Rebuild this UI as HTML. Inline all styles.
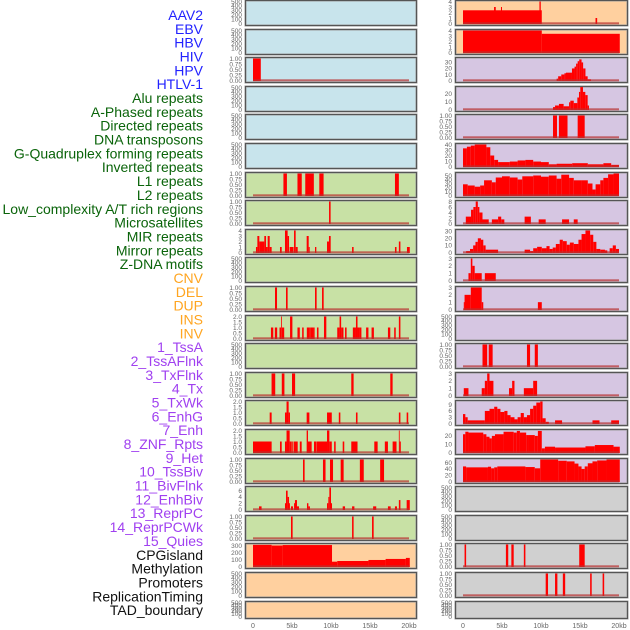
<!DOCTYPE html>
<html><head><meta charset="utf-8"><style>
html,body{margin:0;padding:0;background:#fff;}
svg{display:block;font-family:"Liberation Sans",sans-serif;}
</style></head><body>
<svg id="chart" width="630" height="630" viewBox="0 0 630 630" xmlns="http://www.w3.org/2000/svg"></svg>
<script>
// ---- data ----
const trackLabels = ["AAV2","EBV","HBV","HIV","HPV","HTLV-1","Alu repeats","A-Phased repeats","Directed repeats","DNA transposons","G-Quadruplex forming repeats","Inverted repeats","L1 repeats","L2 repeats","Low_complexity A/T rich regions","Microsatellites","MIR repeats","Mirror repeats","Z-DNA motifs","CNV","DEL","DUP","INS","INV","1_TssA","2_TssAFlnk","3_TxFlnk","4_Tx","5_TxWk","6_EnhG","7_Enh","8_ZNF_Rpts","9_Het","10_TssBiv","11_BivFlnk","12_EnhBiv","13_ReprPC","14_ReprPCWk","15_Quies","CPGisland","Methylation","Promoters","ReplicationTiming","TAD_boundary"];
const labelGroups = ["virus","virus","virus","virus","virus","virus","repeat","repeat","repeat","repeat","repeat","repeat","repeat","repeat","repeat","repeat","repeat","repeat","repeat","sv","sv","sv","sv","sv","chrom","chrom","chrom","chrom","chrom","chrom","chrom","chrom","chrom","chrom","chrom","chrom","chrom","chrom","chrom","other","other","other","other","other"];
const xTickKb = [0,5,10,15,20];
const xTickLabels = ["0","5kb","10kb","15kb","20kb"];
const emptyTicks = [0,100,200,300,400,500];
const unitTicks = [0,0.25,0.5,0.75,1];
const unitTickLabels = ["0.00","0.25","0.50","0.75","1.00"];

// bars: [startKb, endKb, value]
const L3bars = [[0,1,1]];
const L7bars = [[3.9,4.35,1],[5.7,6.25,1],[6.7,7.8,1],[8.5,9.05,1],[18.2,18.7,1]];
const L8bars = [[9.75,9.95,1]];
const L9bars = [[0.38,0.56,1],[0.56,0.81,3],[0.81,1.45,2],[1.45,1.67,3],[1.67,1.88,1],[1.88,2.14,3],[2.14,2.39,1],[3.46,3.68,1],[4.1,4.44,4],[4.44,4.62,3],[4.7,5.2,1],[5.26,5.47,4],[5.47,5.73,1],[6.88,7.14,3],[7.14,7.27,1],[7.95,8.12,1],[9.49,9.74,2],[9.74,9.96,3],[12.7,12.9,1],[18.2,18.4,1],[18.7,18.9,2],[19.74,20.1,1]];
const L11bars = [[2.82,3.08,1],[4.23,4.44,1],[7.95,8.16,1],[8.85,9.06,1]];
const L12bars = [[2.3,2.6,1],[2.8,3.1,1],[3.4,3.6,1],[3.6,3.7,2],[3.7,4.0,1],[4.75,5.05,2],[5.7,6.0,1],[6.3,6.5,1],[6.9,7.2,1],[7.2,7.4,1],[7.4,7.7,1],[7.7,7.9,1],[8.2,8.4,1],[9.1,9.4,2],[10.8,11.1,1],[11.1,11.3,2],[11.3,11.6,1],[11.8,12.0,1],[12.8,13.2,1],[13.2,13.4,2],[13.4,13.6,1],[13.6,13.9,1],[14.5,14.8,1],[15.2,15.5,1],[17.3,17.6,1],[18.1,18.3,1],[18.7,18.9,2]];
const L14bars = [[2.38,2.85,1],[3.69,4.03,1],[5.0,5.4,1],[12.6,12.9,1],[17.6,17.9,1]];
const L15bars = [[2.14,2.39,1],[4.1,4.3,1],[4.3,4.57,2],[4.57,4.74,1],[6.88,7.23,1],[9.49,10.1,1],[11.0,11.2,1],[13.2,13.4,1],[18.7,18.9,1],[19.7,19.9,1]];
const L16bars = [[0,2.39,1],[3.46,3.68,1],[4.1,4.3,1],[4.3,4.7,2],[4.7,4.87,1],[4.9,5.1,1],[5.2,5.73,1],[6.0,6.24,1],[6.88,7.05,2],[7.05,7.52,1],[7.82,8.08,1],[8.12,9.49,1],[9.49,9.79,2],[9.79,10.1,1],[10.4,10.6,1],[11.5,11.7,1],[12.6,13.4,1],[15.55,15.98,1],[16.9,17.3,1],[17.9,18.4,1],[18.7,18.8,2],[18.8,18.95,1]];
const L17bars = [[6.41,6.62,1],[8.97,9.3,1],[9.87,10.26,1],[11.24,11.62,1],[13.7,14.2,1],[16.3,16.8,1]];
const L18bars = [[0.77,1.1,1],[4.1,4.23,2],[4.23,4.44,6],[4.44,4.62,4],[4.62,4.74,2],[4.87,5.13,1],[5.26,5.38,2],[5.38,5.64,3],[5.64,5.9,1],[6.92,7.1,2],[7.1,7.3,1],[9.49,9.66,2],[9.66,9.79,4],[9.79,10.0,7],[10.0,10.13,2],[11.5,11.8,1],[12.7,13.0,1],[15.4,15.8,1],[17.3,17.65,1],[18.2,18.46,1],[18.7,18.9,3],[19.7,20.1,3]];
const L19bars = [[4.87,5.08,1],[12.7,12.9,1],[15.26,15.47,1]];
const L20bars = [[0,2.39,315],[2.39,3.8,305],[3.8,10.13,312],[10.13,10.8,70],[10.8,14.8,80],[14.8,17.0,95],[17.0,19.6,110],[19.6,20.1,125]];

const R1bars = [[0,10.1,2.4],[3.98,4.2,3],[4.87,5.0,3],[9.8,9.97,4],[16.99,17.2,1]];
const R2bars = [[0,10.1,4],[10.1,20.1,3.4]];
const R3bars = [[12.0,12.2,3],[12.2,12.6,7],[12.6,13.0,10],[13.0,13.2,12],[13.2,13.97,13],[13.97,14.3,20],[14.3,14.5,23],[14.5,14.7,28],[14.7,14.9,32],[14.9,15.2,35],[15.2,15.4,30],[15.4,15.7,20],[15.7,15.98,7],[15.98,16.4,2]];
const R4bars = [[11.54,11.8,3],[11.8,12.3,5],[12.3,12.9,7],[12.9,13.6,4],[13.6,13.76,9],[13.76,14.2,11],[14.2,14.66,8],[14.66,14.87,15],[14.87,15.04,22],[15.04,15.38,28],[15.38,15.68,22],[15.68,15.98,18],[15.98,16.15,5]];
const R5bars = [[11.54,12.05,1],[12.3,13.4,1],[14.7,15.6,1]];
const R6bars = [[0,0.5,33],[0.5,1.0,36],[1.0,1.5,38],[1.5,3.0,40],[3.0,3.5,35],[3.5,4.0,20],[4.0,4.5,12],[4.5,6,8],[6,7,9],[7,8,11],[8,9,12],[9,10,9],[10,11,8],[11,12,4],[12,14,5],[14,16,6],[16,18,4],[18,19,6],[19,20,3]];
const R7bars = [[0,0.6,28],[0.6,1.5,25],[1.5,2.2,22],[2.2,2.7,25],[2.7,3.7,38],[3.7,4.2,33],[4.2,5,45],[5,6,48],[6,7,45],[7,7.6,40],[7.6,9,48],[9,10,50],[10,11,47],[11,12,50],[12,12.6,42],[12.6,13.6,52],[13.6,14.2,44],[14.2,15.2,38],[15.2,16,38],[16,16.6,30],[16.6,17,15],[17,17.6,28],[17.6,18,38],[18,18.6,44],[18.6,19.3,53],[19.3,20,55]];
const R8bars = [[0.36,1.03,2.5],[1.03,1.33,5],[1.33,1.63,6],[1.63,1.9,8],[1.9,2.1,6],[2.1,2.5,4],[2.5,3.3,1.5],[3.7,4.5,1.5],[4.5,4.9,2.5],[4.9,5.3,1.5],[7.9,8.7,2.5],[9.7,10.6,1.5],[12.7,13.6,1.5],[14.2,14.7,1.5]];
const R9bars = [[0.4,0.9,2],[0.9,1.3,5],[1.3,1.6,10],[1.6,1.9,15],[1.9,2.3,20],[2.3,2.6,18],[2.6,2.9,10],[2.9,4.5,4],[7.9,8.6,4],[8.6,9.0,2],[9.0,9.5,6],[9.5,10.1,8],[10.1,10.7,6],[10.7,11.1,9],[11.1,11.5,5],[11.5,11.9,7],[11.9,12.4,12],[12.4,12.8,18],[12.8,13.3,16],[13.3,13.7,11],[13.7,14.2,14],[14.2,14.8,12],[14.8,15.2,18],[15.2,15.7,26],[15.7,16.3,31],[16.3,16.7,25],[16.7,17.1,15],[17.1,17.6,5],[17.6,18.2,4],[18.2,18.5,3],[18.8,19.2,6],[19.2,19.6,10],[19.6,20,5]];
const R10bars = [[0.7,1.0,1],[1.0,1.2,3],[1.2,1.5,2],[1.5,2.4,1],[2.8,4.2,1]];
const R11bars = [[0.1,0.2,1],[0.2,1.0,2],[1.0,2.4,3],[2.4,2.6,1],[9.6,10.1,1]];
const R13bars = [[2.5,3.1,1],[3.3,3.8,1],[8.2,8.6,1],[9.2,9.6,1]];
const R14bars = [[0.1,0.7,1],[2.4,2.8,1],[2.8,3.1,2],[3.1,3.4,3],[3.4,3.9,2],[5.9,6.3,1],[6.3,6.6,2],[7.8,9.0,1],[9.0,9.5,2]];
const R15bars = [[0,0.3,4.5],[0.3,0.6,3],[0.6,2.8,1.5],[2.8,3.4,6],[3.4,4.0,7],[4.0,4.4,8],[4.4,4.8,7],[4.8,5.3,5.5],[5.3,5.7,6],[5.7,6.1,4],[6.1,6.6,3],[6.6,7.0,2],[7.0,7.4,3],[7.4,7.8,5],[7.8,8.2,3],[8.2,8.6,4],[8.6,9.0,7],[9.0,9.4,8.5],[9.4,9.9,10],[9.9,10.2,10.5],[10.2,10.6,2.5],[10.6,11.0,0.8],[11.8,12.7,1.5],[16.6,17.5,1.5],[19.0,20,1.5]];
const R16bars = [[0,0.3,22],[0.3,0.7,25],[0.7,2.6,24],[2.6,3.0,22],[3.0,3.4,19],[3.4,3.7,17],[3.7,4.1,20],[4.1,5.2,22],[5.2,6.5,25],[6.5,6.9,24],[6.9,7.3,26],[7.3,8.1,24],[8.1,8.4,21],[8.4,9.2,21],[9.2,9.6,20],[9.6,10.1,26],[10.1,10.5,5],[10.5,11.8,7],[11.8,15.7,6],[15.7,16.9,7.5],[16.9,19.3,9],[19.3,20.1,7]];
const R17bars = [[0,0.4,48],[0.4,3.2,45],[3.2,3.6,47],[3.6,4.0,42],[4.0,4.4,45],[4.4,8.0,48],[8.0,9.2,46],[9.2,9.9,42],[9.9,12.2,70],[12.2,13.3,66],[13.3,14.3,64],[14.3,14.8,57],[14.8,15.2,48],[15.2,15.6,40],[15.6,16.0,48],[16.0,16.6,58],[16.6,17.2,64],[17.2,18.4,67],[18.4,20.1,70]];
const R20bars = [[0.2,0.4,1],[5.5,5.8,1],[6.2,6.5,1],[7.8,8.0,1],[14.9,15.6,1]];
const R21bars = [[10.6,10.9,1],[11.8,12.1,1],[12.8,13.1,1],[16.3,16.5,1],[17.9,18.1,1]];

// panel specs: [col, row, bg, ticks, tickLabels, ymax, bars]
const panels = [
 [0,0,"blue",null,null,500,null],[0,1,"blue",null,null,500,null],
 [0,2,"blue",unitTicks,unitTickLabels,1,L3bars],[0,3,"blue",null,null,500,null],
 [0,4,"blue",null,null,500,null],[0,5,"blue",null,null,500,null],
 [0,6,"green",unitTicks,unitTickLabels,1,L7bars],[0,7,"green",unitTicks,unitTickLabels,1,L8bars],
 [0,8,"green",[0,1,2,3,4],["0","1","2","3","4"],4,L9bars],[0,9,"green",null,null,500,null],
 [0,10,"green",unitTicks,unitTickLabels,1,L11bars],[0,11,"green",[0,0.5,1,1.5,2],["0.0","0.5","1.0","1.5","2.0"],2,L12bars],
 [0,12,"green",null,null,500,null],[0,13,"green",unitTicks,unitTickLabels,1,L14bars],
 [0,14,"green",[0,0.5,1,1.5,2],["0.0","0.5","1.0","1.5","2.0"],2,L15bars],[0,15,"green",[0,0.5,1,1.5,2],["0.0","0.5","1.0","1.5","2.0"],2,L16bars],
 [0,16,"green",unitTicks,unitTickLabels,1,L17bars],[0,17,"green",[0,2,4,6],["0","2","4","6"],7,L18bars],
 [0,18,"green",unitTicks,unitTickLabels,1,L19bars],[0,19,"orange",[0,100,200,300],["0","100","200","300"],320,L20bars],
 [0,20,"orange",null,null,500,null],[0,21,"orange",null,null,500,null],
 [1,0,"orange",[0,1,2,3,4],["0","1","2","3","4"],4,R1bars],[1,1,"orange",[0,1,2,3,4],["0","1","2","3","4"],4,R2bars],
 [1,2,"purple",[0,10,20,30],["0","10","20","30"],36.5,R3bars],[1,3,"purple",[0,10,20],["0","10","20"],27.5,R4bars],
 [1,4,"purple",unitTicks,unitTickLabels,1,R5bars],[1,5,"purple",[0,10,20,30,40],["0","10","20","30","40"],40,R6bars],
 [1,6,"purple",[0,10,20,30,40,50],["0","10","20","30","40","50"],55,R7bars],[1,7,"purple",[0,2,4,6,8],["0","2","4","6","8"],8,R8bars],
 [1,8,"purple",[0,10,20,30],["0","10","20","30"],31,R9bars],[1,9,"purple",[0,1,2,3],["0","1","2","3"],3,R10bars],
 [1,10,"purple",[0,1,2,3],["0","1","2","3"],3,R11bars],[1,11,"purple",null,null,500,null],
 [1,12,"purple",unitTicks,unitTickLabels,1,R13bars],[1,13,"purple",[0,1,2,3],["0","1","2","3"],3,R14bars],
 [1,14,"purple",[0,3,6,9],["0","3","6","9"],10.5,R15bars],[1,15,"purple",[0,10,20],["0","10","20"],26.5,R16bars],
 [1,16,"purple",[0,20,40,60],["0","20","40","60"],70,R17bars],[1,17,"gray",null,null,500,null],
 [1,18,"gray",null,null,500,null],[1,19,"gray",unitTicks,unitTickLabels,1,R20bars],
 [1,20,"gray",unitTicks,unitTickLabels,1,R21bars],[1,21,"gray",null,null,500,null]
];

// ---- rendering ----
const NS="http://www.w3.org/2000/svg";
const svg=document.getElementById("chart");
const bgColors={blue:"#c8e4ec",green:"#c8e1a5",orange:"#ffd09f",purple:"#d6c6e2",gray:"#d0d0d0"};
const labelColors={virus:"#2222ff",repeat:"#0a640a",sv:"#ffa520",chrom:"#a040f0",other:"#111111"};
function mk(tag,attrs,parent){const e=document.createElementNS(NS,tag);for(const k in attrs)e.setAttribute(k,attrs[k]);(parent||svg).appendChild(e);return e;}
function xScale(col,kb){return (col?463:253)+kb*7.8;}
function panelTop(row){return Math.round(row*28.6);}
function panelH(row){return row===21?17:25;}

trackLabels.forEach((t,i)=>{
  const e=mk("text",{x:203,y:15+i*13.84+5,"text-anchor":"end","font-size":"14",fill:labelColors[labelGroups[i]]});
  e.textContent=t;
  
  
});

panels.forEach((p,pi)=>{
  const [col,row,bg,ticksIn,tlIn,ymax,bars]=p;
  const bx=col?455:245, bw=col?172:171, by=panelTop(row), bh=panelH(row);
  const g=mk("g",{});
  
  
  mk("rect",{x:bx+0.5,y:by+0.5,width:bw,height:bh,fill:bgColors[bg],stroke:"#9a9a9a","stroke-width":2},g);
  mk("rect",{x:bx+0.5,y:by+0.5,width:bw,height:bh,fill:"none",stroke:"#555","stroke-width":1},g);
  const y0=by+bh-1.5, y1=by+1.5;
  const ys=v=>y0-(v/ymax)*(y0-y1);
  const ticks=ticksIn||emptyTicks;
  const tl=tlIn||emptyTicks.map(String);
  ticks.forEach((tv,ti)=>{
    const t=mk("text",{x:bx-3,y:ys(tv)+2.3,"text-anchor":"end","font-size":"6.5",fill:"#666"},g);
    t.textContent=tl[ti];
    
    
  });
  if(bars){
    bars.forEach(b=>{
      const x=xScale(col,b[0]), w=Math.max(0.8,(b[1]-b[0])*7.8), y=ys(b[2]);
      const r=mk("rect",{x:x,y:y,width:w,height:y0-y+0.5,fill:"#ff0000"},g);
      
      
    });
    const bl=mk("rect",{x:xScale(col,0),y:y0-1.2,width:20*7.8,height:2,fill:"#b83030","fill-opacity":"0.7"},g);
    
    
  }
});

[0,1].forEach(col=>{
  xTickKb.forEach((kb,i)=>{
    const t=mk("text",{x:xScale(col,kb),y:628,"text-anchor":"middle","font-size":"7",fill:"#666"});
    t.textContent=xTickLabels[i];
    
    
  });
});
</script>
</body></html>
